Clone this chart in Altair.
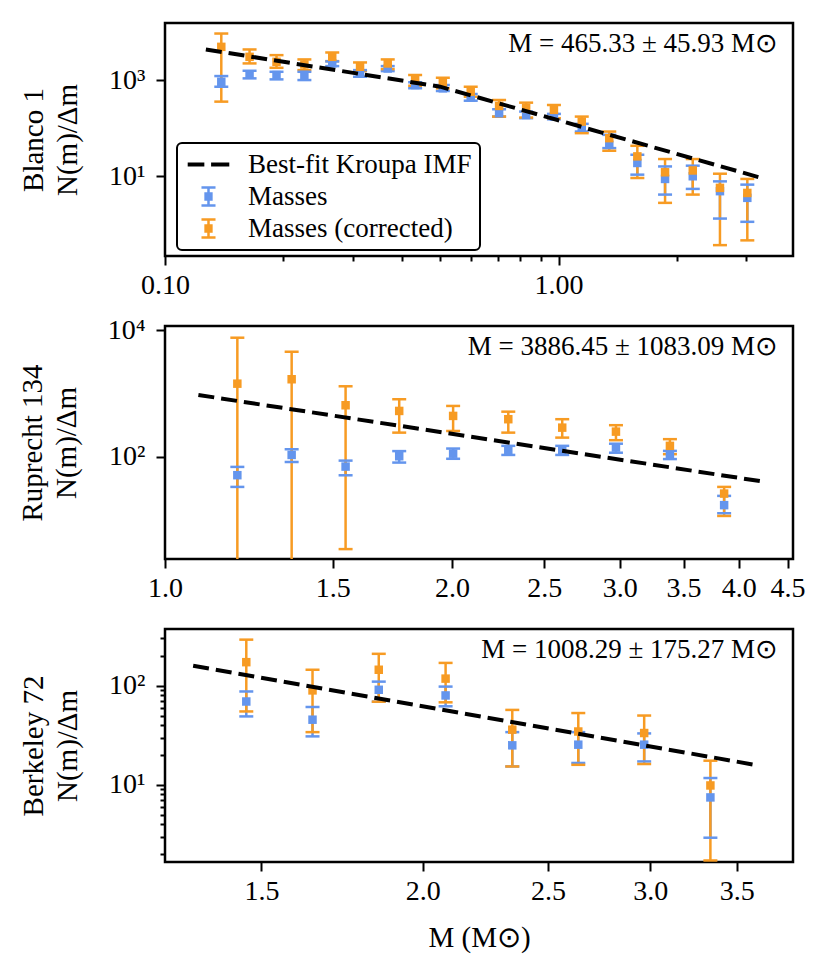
import altair as alt
import pandas as pd

FONT = "Liberation Serif"
BLUE = "#6495ED"
ORANGE = "#F79B23"
SERIES = ["Best-fit Kroupa IMF", "Masses", "Masses (corrected)"]

# ---------------- Blanco 1 ----------------
b1_mass = [0.139, 0.164, 0.192, 0.226, 0.266, 0.313, 0.368, 0.432, 0.508, 0.598,
           0.706, 0.827, 0.973, 1.145, 1.345, 1.585, 1.864, 2.192, 2.570, 3.016]
b1_val = [922, 1310, 1270, 1270, 2214, 1375, 1740, 788, 673, 437,
          204, 188, 174, 105, 45, 18.9, 8.8, 10, 4.9, 3.56]
b1_lo = [726, 1084, 1033, 1000, 1950, 1170, 1535, 673, 592, 372,
         174, 161, 153, 85, 38.5, 10.8, 4.16, 5.46, 1.32, 1.13]
b1_hi = [1211, 1560, 1486, 1486, 2438, 1610, 1950, 896, 788, 513,
         247, 221, 198, 123, 72.6, 28, 16, 16.6, 7.83, 6.7]
b1c_val = [4900, 3040, 2395, 2110, 3040, 1890, 2214, 1000, 880, 573,
           290, 260, 240, 137, 62, 25.9, 12.1, 13.2, 5.73, 4.5]
b1c_lo = [356, 2218, 1798, 1610, 2472, 1535, 1690, 762, 673, 451,
          174, 166, 161, 78.7, 33.9, 9.2, 2.8, 4.16, 0.37, 0.465]
b1c_hi = [9270, 4325, 3296, 2685, 3741, 2323, 2685, 1270, 1117, 726,
          385, 339, 303, 174, 85, 43, 22.8, 22.8, 11.3, 8.8]
b1_fit_m = [0.127, 0.5, 3.28]
b1_fit_v = [4325, 728, 9.2]

# ---------------- Ruprecht 134 ----------------
r_mass = [1.191, 1.358, 1.547, 1.761, 2.006, 2.292, 2.611, 2.973, 3.387, 3.861]
r_val = [51.2, 107, 70, 102, 112, 127, 127, 140, 107, 17.2]
r_lo = [33.4, 83, 51, 81, 93, 107, 107, 116, 92, 12.8]
r_hi = [69.2, 132, 87, 123, 135, 149, 149, 161, 124, 24.1]
rc_val = [1433, 1683, 653, 531, 443, 393, 289, 250, 149, 26.2]
rc_lo = [0.5, 0.5, 3.47, 241, 256, 241, 201, 183, 110, 11.6]
rc_hi = [7640, 4590, 1303, 813, 637, 517, 393, 316, 190, 33.4]
r_fit_m = [1.084, 4.24]
r_fit_v = [950, 40.6]

# ---------------- Berkeley 72 ----------------
k_mass = [1.460, 1.643, 1.849, 2.083, 2.346, 2.639, 2.968, 3.340]
k_val = [69.3, 45.4, 91, 79.8, 25, 25.4, 25.4, 7.45]
k_lo = [49, 30.8, 69, 62, 15.3, 16.6, 17.2, 2.92]
k_hi = [87.5, 61, 110, 98, 34, 34, 33, 11.7]
kc_val = [173, 89.7, 145, 118, 36, 34.5, 33.3, 9.84]
kc_lo = [55, 34, 69, 68, 15.3, 15.9, 16.2, 1.72]
kc_hi = [292, 145, 210, 170, 57, 53, 50, 17.5]
k_fit_m = [1.328, 3.635]
k_fit_v = [159, 15.7]

# tick values / labels
top_x_ticks = [0.1, 0.2, 0.3, 0.4, 0.5, 0.6, 0.7, 0.8, 0.9, 1.0, 2.0, 3.0]
top_y_ticks = [10, 1000]
mid_x_ticks = [1.0, 1.5, 2.0, 2.5, 3.0, 3.5, 4.0, 4.5]
mid_y_ticks = [100, 10000]
bot_x_ticks = [1.5, 2.0, 2.5, 3.0, 3.5]
bot_y_ticks = [2, 3, 4, 5, 6, 7, 8, 9, 10, 20, 30, 40, 50, 60, 70, 80, 90, 100, 200, 300]

annotations = ["M = 465.33 ± 45.93 M⊙", "M = 3886.45 ± 1083.09 M⊙", "M = 1008.29 ± 175.27 M⊙"]
names = ["Blanco 1", "Ruprecht 134", "Berkeley 72"]

color_scale = alt.Scale(domain=SERIES, range=["black", BLUE, ORANGE])
# legend glyphs (unit = 13 px): dashed line, and square marker with error bar + caps
DASH_PATH = "M-1.6,-0.16H-0.32V0.16H-1.6Z M0.2,-0.16H1.6V0.16H0.2Z"
ERR_PATH = ("M-0.32,-0.32H0.32V0.32H-0.32Z M-0.096,-0.7H0.096V0.7H-0.096Z "
            "M-0.54,-0.79H0.54V-0.6H-0.54Z M-0.54,0.6H0.54V0.79H-0.54Z")
shape_scale = alt.Scale(domain=SERIES, range=[DASH_PATH, ERR_PATH, ERR_PATH])


def points_df(m, bv, blo, bhi, ov, olo, ohi):
    rows = []
    for i in range(len(m)):
        rows.append(dict(mass=m[i], value=bv[i], lo=blo[i], hi=bhi[i], series="Masses"))
    for i in range(len(m)):
        rows.append(dict(mass=m[i], value=ov[i], lo=olo[i], hi=ohi[i], series="Masses (corrected)"))
    return pd.DataFrame(rows)


def panel(pdf, fit_m, fit_v, xdom, ydom, xaxis, yaxis, annot, legend=False):
    xs = alt.Scale(type="log", domain=xdom, nice=False)
    ys = alt.Scale(type="log", domain=ydom, nice=False)
    X = alt.X("mass:Q", scale=xs, axis=xaxis)
    col = alt.Color("series:N", scale=color_scale, legend=None)
    base = alt.Chart(pdf)
    bars = base.mark_rule(strokeWidth=2.5, clip=True).encode(
        x=X, y=alt.Y("lo:Q", scale=ys, axis=yaxis), y2="hi:Q", color=col)
    cap_lo = base.mark_tick(orient="horizontal", size=14, thickness=2.5, clip=True, opacity=1).encode(
        x=X, y=alt.Y("lo:Q", scale=ys, axis=yaxis), color=col)
    cap_hi = base.mark_tick(orient="horizontal", size=14, thickness=2.5, clip=True, opacity=1).encode(
        x=X, y=alt.Y("hi:Q", scale=ys, axis=yaxis), color=col)
    sq = base.mark_square(size=72, opacity=1, clip=True).encode(
        x=X, y=alt.Y("value:Q", scale=ys, axis=yaxis), color=col)
    ldf = pd.DataFrame({"mass": fit_m, "value": fit_v})
    line = alt.Chart(ldf).mark_line(strokeDash=[16, 7], strokeWidth=4, color="black", clip=True).encode(
        x=X, y=alt.Y("value:Q", scale=ys, axis=yaxis))
    txt = alt.Chart(pd.DataFrame({"t": [annot]})).mark_text(
        align="right", baseline="middle", font=FONT, fontSize=27, color="black").encode(
        x=alt.value(613), y=alt.value(21), text="t:N")
    layers = [bars, cap_lo, cap_hi, sq, line]
    if legend:
        leg = alt.Legend(title=None, orient="none", legendX=12, legendY=120, direction="vertical",
                         symbolSize=676, symbolStrokeWidth=0, symbolOpacity=1, symbolOffset=10,
                         labelFont=FONT, labelFontSize=27, labelColor="black", labelOffset=26,
                         labelLimit=0, rowPadding=4, padding=8, strokeColor="black",
                         cornerRadius=5, fillColor="white")
        edf = pd.DataFrame({"mass": pd.Series([], dtype=float),
                            "value": pd.Series([], dtype=float),
                            "series": pd.Series([], dtype=str)})
        lg = alt.Chart(edf).mark_point(filled=True, opacity=1).encode(
            x=X, y=alt.Y("value:Q", scale=ys, axis=yaxis),
            color=alt.Color("series:N", scale=color_scale, legend=leg),
            shape=alt.Shape("series:N", scale=shape_scale, legend=leg))
        layers.append(lg)
    layers.append(txt)
    return alt.layer(*layers).resolve_scale(
        color="independent", shape="independent"
    ).properties(width=628, height=233)


def cond(test, a, b):
    return {"condition": {"test": test, "value": a}, "value": b}


top_major = "datum.value < 0.15 || abs(datum.value - 1) < 0.01"
top_xaxis = alt.Axis(values=top_x_ticks, title=None,
                     labelExpr="datum.value < 0.15 ? '0.10' : (abs(datum.value - 1) < 0.01 ? '1.00' : '')",
                     tickSize=cond(top_major, 9, 5))
top_yaxis = alt.Axis(values=top_y_ticks, title=["Blanco 1", "N(m)/Δm"],
                     labelExpr="datum.value < 100 ? '10¹' : '10³'", tickSize=9)
mid_xaxis = alt.Axis(values=mid_x_ticks, title=None, format=".1f", tickSize=9)
mid_yaxis = alt.Axis(values=mid_y_ticks, title=["Ruprecht 134", "N(m)/Δm"],
                     labelExpr="datum.value < 1000 ? '10²' : '10⁴'", tickSize=9)
bot_major = "abs(datum.value - 10) < 0.01 || abs(datum.value - 100) < 0.01"
bot_xaxis = alt.Axis(values=bot_x_ticks, title="M (M⊙)", format=".1f", tickSize=9)
bot_yaxis = alt.Axis(values=bot_y_ticks, title=["Berkeley 72", "N(m)/Δm"],
                     labelExpr="abs(datum.value - 10) < 0.01 ? '10¹' : (abs(datum.value - 100) < 0.01 ? '10²' : '')",
                     tickSize=cond(bot_major, 9, 5))

p1 = panel(points_df(b1_mass, b1_val, b1_lo, b1_hi, b1c_val, b1c_lo, b1c_hi),
           b1_fit_m, b1_fit_v, [0.1, 3.94], [0.22, 15350], top_xaxis, top_yaxis, annotations[0], legend=True)
p2 = panel(points_df(r_mass, r_val, r_lo, r_hi, rc_val, rc_lo, rc_hi),
           r_fit_m, r_fit_v, [1.0, 4.56], [2.42, 11700], mid_xaxis, mid_yaxis, annotations[1])
p3 = panel(points_df(k_mass, k_val, k_lo, k_hi, kc_val, kc_lo, kc_hi),
           k_fit_m, k_fit_v, [1.263, 3.87], [1.66, 374], bot_xaxis, bot_yaxis, annotations[2])

chart = alt.vconcat(p1, p2, p3, spacing=70, bounds="flush").resolve_scale(
    color="independent", shape="independent"
).properties(
    padding={"left": 8, "top": 13, "right": 5, "bottom": 10}
).configure_view(
    stroke="black", strokeWidth=2.5
).configure_axis(
    labelFont=FONT, labelFontSize=28, titleFont=FONT, titleFontSize=29, titleFontWeight="normal",
    labelColor="black", titleColor="black", tickColor="black", tickWidth=2,
    domain=False, grid=False, labelOverlap=False, labelFlush=False
).configure_axisY(
    labelPadding=11, titlePadding=26, titleLineHeight=34
).configure_axisX(
    labelPadding=6, titlePadding=18
).configure_legend(
    strokeWidth=2
)

chart.save("out.html", embed_options={"renderer": "svg", "actions": False})
